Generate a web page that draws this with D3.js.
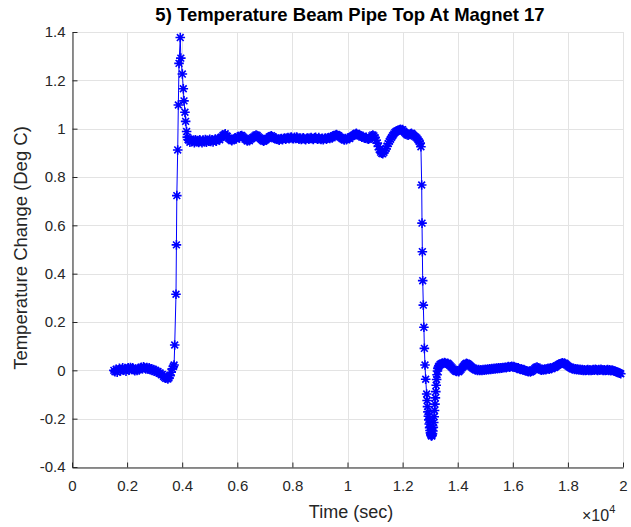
<!DOCTYPE html>
<html>
<head>
<meta charset="utf-8">
<script src="https://cdn.jsdelivr.net/npm/d3@7"></script>
<style>
	body { margin: 0; background: #fff; }
	svg { display: block; }
	text { font-family: "Liberation Sans", Arial, sans-serif; }
</style>
</head>
<body>
<div id="chart"></div>
<script>
// sampling clock of the logger (sec)
const sampleStep = 40;

// baseline before the beam on
const baseBeforeStart = 1520;
const baseBefore = [
	0.000, -0.006, 0.004, -0.008, 0.002, 0.008, -0.003, 0.004, 0.010, 0.001,
	0.007, -0.004, 0.005, 0.011, 0.002, 0.012, 0.005, 0.010, 0.003, -0.002,
	0.004, 0.000, 0.007, 0.002, 0.009, 0.013, 0.007, 0.015, 0.010, 0.006,
	0.012, 0.005, 0.010, 0.003, 0.006, 0.000, 0.003, -0.004, 0.000, -0.008,
	-0.005, -0.012, -0.011, -0.018, -0.017, -0.025, -0.029, -0.033, -0.031, -0.036,
	-0.031, -0.022, -0.008, 0.006, 0.016
];

// step up and overshoot
const riseTimes = [3705, 3728, 3775, 3790, 3805, 3837, 3860, 3885, 3930, 3950, 4005, 4040, 4065, 4100, 4125, 4160, 4185, 4210];
const riseValues = [0.022, 0.105, 0.315, 0.519, 0.723, 0.912, 1.098, 1.270, 1.377, 1.292, 1.226, 1.165, 1.115, 1.068, 1.030, 0.988, 0.965, 0.955];

// plateau
const plateauStart = 4240;
const plateau = [
	0.952, 0.944, 0.956, 0.947, 0.952, 0.942, 0.954, 0.946, 0.951, 0.943,
	0.954, 0.947, 0.942, 0.953, 0.946, 0.955, 0.944, 0.952, 0.948, 0.956,
	0.947, 0.954, 0.945, 0.952, 0.957, 0.948, 0.955, 0.959, 0.954, 0.963,
	0.966, 0.972, 0.975, 0.979, 0.971, 0.968, 0.961, 0.958, 0.954, 0.950,
	0.954, 0.958, 0.961, 0.957, 0.965, 0.967, 0.962, 0.971, 0.972, 0.967,
	0.963, 0.957, 0.954, 0.949, 0.953, 0.950, 0.957, 0.959, 0.963, 0.966,
	0.970, 0.974, 0.972, 0.967, 0.963, 0.959, 0.955, 0.951, 0.948, 0.952,
	0.954, 0.959, 0.961, 0.966, 0.968, 0.971, 0.966, 0.962, 0.958, 0.962,
	0.956, 0.955, 0.952, 0.957, 0.959, 0.954, 0.959, 0.961, 0.956, 0.961,
	0.963, 0.958, 0.963, 0.965, 0.960, 0.958, 0.964, 0.959, 0.965, 0.961,
	0.956, 0.961, 0.955, 0.960, 0.962, 0.957, 0.954, 0.960, 0.961, 0.956,
	0.961, 0.963, 0.958, 0.955, 0.962, 0.964, 0.959, 0.956, 0.963, 0.958,
	0.955, 0.960, 0.954, 0.959, 0.961, 0.956, 0.961, 0.963, 0.959, 0.966,
	0.962, 0.968, 0.970, 0.974, 0.976, 0.973, 0.971, 0.966, 0.963, 0.959,
	0.957, 0.953, 0.959, 0.954, 0.960, 0.962, 0.959, 0.966, 0.968, 0.972,
	0.974, 0.978, 0.981, 0.977, 0.975, 0.971, 0.969, 0.965, 0.968, 0.963,
	0.961, 0.964, 0.958, 0.956, 0.959, 0.963, 0.970, 0.974, 0.970, 0.963,
	0.952, 0.940, 0.926, 0.913, 0.903, 0.898, 0.896, 0.902, 0.910, 0.918,
	0.927, 0.938, 0.948, 0.956, 0.964, 0.971, 0.978, 0.984, 0.988, 0.991,
	0.993, 0.995, 0.997, 0.994, 0.996, 0.990, 0.984, 0.979, 0.975, 0.973,
	0.976, 0.979, 0.981, 0.977, 0.972, 0.968, 0.965, 0.961, 0.954, 0.947, 0.940
];

// step down and undershoot
const fallTimes = [12665, 12693, 12705, 12717, 12730, 12752, 12773, 12790, 12813, 12838, 12874, 12890, 12905, 12920, 12935, 12950, 12965, 12980, 12995, 13010, 13025, 13040, 13056, 13070, 13085, 13100, 13115, 13130, 13145, 13160, 13175, 13190, 13205, 13220, 13235, 13250, 13265, 13280, 13300];
const fallValues = [0.925, 0.767, 0.609, 0.491, 0.371, 0.270, 0.178, 0.091, 0.022, -0.037, -0.098, -0.125, -0.150, -0.172, -0.190, -0.205, -0.222, -0.237, -0.249, -0.259, -0.266, -0.270, -0.272, -0.268, -0.262, -0.251, -0.236, -0.216, -0.192, -0.166, -0.140, -0.114, -0.088, -0.062, -0.038, -0.018, -0.003, 0.008, 0.014];

// baseline after the beam off
const baseAfterStart = 13320;
const baseAfter = [
	0.018, 0.024, 0.027, 0.030, 0.028, 0.032, 0.030, 0.027, 0.029, 0.025,
	0.020, 0.015, 0.010, 0.005, 0.001, -0.003, -0.005, -0.002, -0.006, -0.001,
	0.004, 0.010, 0.016, 0.022, 0.026, 0.029, 0.027, 0.024, 0.020, 0.016,
	0.012, 0.008, 0.005, 0.002, 0.004, 0.000, 0.003, -0.001, 0.002, 0.000,
	0.003, 0.001, 0.004, 0.002, 0.005, 0.003, 0.006, 0.004, 0.007, 0.005,
	0.008, 0.006, 0.009, 0.007, 0.010, 0.008, 0.011, 0.009, 0.012, 0.011,
	0.013, 0.011, 0.014, 0.016, 0.013, 0.015, 0.017, 0.014, 0.016, 0.013,
	0.011, 0.008, 0.010, 0.006, 0.004, 0.005, 0.002, 0.003, 0.000, -0.002,
	-0.004, -0.006, -0.003, -0.007, -0.004, -0.001, 0.003, 0.008, 0.012, 0.014,
	0.010, 0.006, 0.003, 0.001, 0.004, 0.002, 0.005, 0.003, 0.006, 0.008,
	0.005, 0.009, 0.007, 0.011, 0.014, 0.012, 0.016, 0.019, 0.022, 0.025,
	0.027, 0.029, 0.031, 0.028, 0.030, 0.026, 0.022, 0.018, 0.015, 0.012,
	0.009, 0.006, 0.008, 0.004, 0.006, 0.003, 0.005, 0.002, 0.004, 0.001,
	0.003, 0.000, 0.002, -0.001, 0.001, 0.003, 0.000, 0.002, -0.001, 0.001,
	0.003, 0.001, 0.004, 0.002, 0.000, 0.003, 0.001, 0.004, 0.002, 0.000,
	0.002, -0.001, 0.001, 0.003, 0.000, 0.002, -0.002, 0.001, -0.001, -0.003,
	-0.004, -0.006, -0.008, -0.010, -0.012, -0.014
];

const xTicks = [0, 2000, 4000, 6000, 8000, 10000, 12000, 14000, 16000, 18000, 20000];
const xTickLabels = ["0", "0.2", "0.4", "0.6", "0.8", "1", "1.2", "1.4", "1.6", "1.8", "2"];
const yTicks = [-0.4, -0.2, 0, 0.2, 0.4, 0.6, 0.8, 1, 1.2, 1.4];
const yTickLabels = ["-0.4", "-0.2", "0", "0.2", "0.4", "0.6", "0.8", "1", "1.2", "1.4"];

const width = 631;
const height = 527;
const axisColor = "#262626";
const gridColor = "#e3e3e3";
const blue = "#0000ff";

// put the pieces together in time order
const points = [];
baseBefore.forEach((v, i) => points.push([baseBeforeStart + i * sampleStep, v]));
riseTimes.forEach((t, i) => points.push([t, riseValues[i]]));
plateau.forEach((v, i) => points.push([plateauStart + i * sampleStep, v]));
fallTimes.forEach((t, i) => points.push([t, fallValues[i]]));
baseAfter.forEach((v, i) => points.push([baseAfterStart + i * sampleStep, v]));

const x = d3.scaleLinear().domain([0, 20000]).range([72, 623]);
const y = d3.scaleLinear().domain([-0.4, 1.4]).range([467, 32]);

const svg = d3
	.select("#chart")
	.append("svg")
	.attr("width", width)
	.attr("height", height);

// grid
const grid = svg.append("g").attr("stroke", gridColor).attr("stroke-width", 1);
grid.selectAll(".vgrid")
	.data(xTicks)
	.join("line")
	.attr("x1", (d) => Math.round(x(d)) + 0.5)
	.attr("x2", (d) => Math.round(x(d)) + 0.5)
	.attr("y1", y(-0.4))
	.attr("y2", y(1.4));
grid.selectAll(".hgrid")
	.data(yTicks)
	.join("line")
	.attr("x1", x(0))
	.attr("x2", x(20000))
	.attr("y1", (d) => Math.round(y(d)) + 0.5)
	.attr("y2", (d) => Math.round(y(d)) + 0.5);

// MATLAB style '*' marker: plus and cross
const asterisk = {
	draw(ctx, size) {
		const r = Math.sqrt(size) / 2;
		const d = r * Math.SQRT1_2;
		ctx.moveTo(-r, 0);
		ctx.lineTo(r, 0);
		ctx.moveTo(0, -r);
		ctx.lineTo(0, r);
		ctx.moveTo(-d, -d);
		ctx.lineTo(d, d);
		ctx.moveTo(-d, d);
		ctx.lineTo(d, -d);
	},
};

const line = d3
	.line()
	.x((d) => x(d[0]))
	.y((d) => y(d[1]));

svg.append("path")
	.datum(points)
	.attr("fill", "none")
	.attr("stroke", blue)
	.attr("stroke-width", 1)
	.attr("d", line);

const markerPath = d3.symbol(asterisk, 92)();
svg.append("g")
	.selectAll("path")
	.data(points)
	.join("path")
	.attr("transform", (d) => `translate(${x(d[0])},${y(d[1])})`)
	.attr("d", markerPath)
	.attr("fill", "none")
	.attr("stroke", blue)
	.attr("stroke-width", 1.6);

// axes
const xAxis = svg.append("g")
	.attr("transform", `translate(0,${y(-0.4) + 0.5})`)
	.call(
		d3.axisBottom(x)
			.tickValues(xTicks)
			.tickFormat((d, i) => xTickLabels[i])
			.tickSizeInner(-5)
			.tickSizeOuter(0)
			.tickPadding(13)
	);

const yAxis = svg.append("g")
	.attr("transform", `translate(${x(0) + 0.5},0)`)
	.call(
		d3.axisLeft(y)
			.tickValues(yTicks)
			.tickFormat((d, i) => yTickLabels[i])
			.tickSizeInner(-5)
			.tickSizeOuter(0)
			.tickPadding(7)
	);

[xAxis, yAxis].forEach((a) => {
	a.select(".domain").attr("stroke", axisColor);
	a.selectAll(".tick line").attr("stroke", axisColor);
	a.selectAll(".tick text")
		.attr("fill", axisColor)
		.style("font-size", "15px");
});

// labels
svg.append("text")
	.attr("x", 350)
	.attr("y", 21)
	.attr("text-anchor", "middle")
	.style("font-size", "18.5px")
	.style("font-weight", "bold")
	.attr("fill", "#000")
	.text("5) Temperature Beam Pipe Top At Magnet 17");

svg.append("text")
	.attr("x", 351)
	.attr("y", 518)
	.attr("text-anchor", "middle")
	.style("font-size", "18px")
	.attr("fill", axisColor)
	.text("Time (sec)");

svg.append("text")
	.attr("transform", "translate(27,248) rotate(-90)")
	.attr("text-anchor", "middle")
	.style("font-size", "18.5px")
	.attr("fill", axisColor)
	.text("Temperature Change (Deg C)");

const expo = svg.append("text")
	.attr("x", 582)
	.attr("y", 521)
	.style("font-size", "16px")
	.attr("fill", axisColor);
expo.append("tspan").text("\u00d710");
expo.append("tspan")
	.attr("dy", -8)
	.style("font-size", "11px")
	.text("4");
</script>
</body>
</html>
